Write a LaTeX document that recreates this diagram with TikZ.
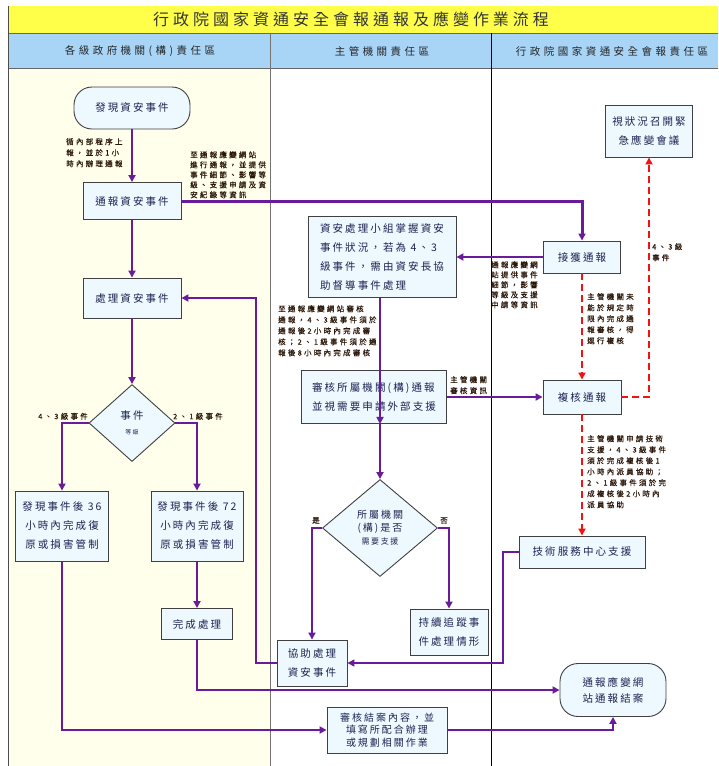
\documentclass[tikz,border=0pt]{standalone}
\usepackage{fontspec}
\setmainfont{Noto Sans CJK TC}
\newfontfamily\titlefont[LetterSpace=25]{Noto Sans CJK TC}
\newfontfamily\headfont[LetterSpace=33]{Noto Sans CJK TC}
\newfontfamily\boxfont[LetterSpace=20]{Noto Sans CJK TC}
\newfontfamily\notefont[LetterSpace=30,FakeBold=0.4]{Noto Sans CJK TC}
\usetikzlibrary{shapes.geometric,arrows.meta}
\definecolor{titleyellow}{HTML}{FFFF4A}
\definecolor{headblue}{HTML}{A8D4F6}
\definecolor{laneyellow}{HTML}{FFFFEC}
\definecolor{boxfill}{HTML}{EEF9FF}
\definecolor{boxtext}{HTML}{1C2452}
\definecolor{notetext}{HTML}{2A1608}
\definecolor{flowpurple}{HTML}{6A1B9A}
\definecolor{alertred}{HTML}{F21212}

\begin{document}
\begin{tikzpicture}[x=1pt,y=-1pt,>={Triangle[length=7pt,width=7pt]}]
  \tikzstyle{stepbox}=[rectangle,draw=black!75,line width=0.9pt,fill=boxfill,text=boxtext,
    font=\boxfont\fontsize{10.5}{19}\selectfont,align=center,inner sep=0pt]
  \tikzstyle{terminal}=[stepbox,rounded corners=18pt]
  \tikzstyle{decision}=[stepbox,diamond]
  \tikzstyle{note}=[font=\notefont\fontsize{7.5}{11}\selectfont,text=notetext,align=left,inner sep=0pt]
  \tikzstyle{flow}=[draw=flowpurple,line width=1.8pt]
  \tikzstyle{alert}=[draw=alertred,line width=1.8pt,dash pattern=on 7pt off 4pt]

  \useasboundingbox (0,0) rectangle (718,766);
  % lanes and header
  \fill[laneyellow] (8,68) rectangle (270,766);
  \fill[titleyellow] (8,6) rectangle (718,33);
  \fill[headblue] (8,33) rectangle (718,68);
  \draw[black!60] (8,33) -- (718,33) (8,68) -- (718,68);
  \draw[black!70] (8,6) -- (8,766);
  \draw[black!55] (270,33) -- (270,766);
  \draw (491,33) -- (491,766);

  \node[font=\titlefont\fontsize{16}{16}\selectfont,text=black!80] (title) at (351,19) {行政院國家資通安全會報通報及應變作業流程};
  \foreach \name/\x/\txt in {lane-1/140/各級政府機關(構)責任區, lane-2/382/主管機關責任區, lane-3/612/行政院國家資通安全會報責任區}
    \node[font=\headfont\fontsize{10.5}{12}\selectfont,text=black!85] (\name) at (\x,51) {\txt};

  % steps
  \node[terminal,minimum width=116pt,minimum height=42pt] (start) at (132,108) {發現資安事件};
  \foreach \name/\x/\y/\w/\h/\txt in {tb/132/201/98/37/通報資安事件, cl/132/298/98/40/處理資安事件,
      wc/197/624/71/31/完成處理, jh/582/257/77/32/接獲通報, fh/582/397/78/34/複核通報,
      ts/582/552/126/32/技術服務中心支援, mt/649/131/87/52/{視狀況召開緊\\急應變會議},
      b36/62/526/93/70/{發現事件後 36\\小時內完成復\\原或損害管制},
      b72/197/526/92/70/{發現事件後 72\\小時內完成復\\原或損害管制},
      track/449/632/78/46/{持續追蹤事\\件處理情形}, help/312/663/70/46/{協助處理\\資安事件}}
    \node[stepbox,minimum width=\w pt,minimum height=\h pt] (\name) at (\x,\y) {\txt};
  \node[stepbox,align=left,minimum width=148pt,minimum height=81pt] (sa) at (382,257)
    {資安處理小組掌握資安\\事件狀況，若為 4、3\\級事件，需由資安長協\\助督導事件處理};
  \node[stepbox,align=left,minimum width=145pt,minimum height=53pt] (sh) at (374,397)
    {審核所屬機關(構)通報\\並視需要申請外部支援};
  \node[stepbox,font=\boxfont\fontsize{10}{12.5}\selectfont,minimum width=120pt,minimum height=46pt] (rv) at (387,730)
    {審核結案內容，並\\填寫所配合辦理\\或規劃相關作業};
  \node[terminal,font=\boxfont\fontsize{10.5}{16}\selectfont,minimum width=106pt,minimum height=53pt] (end) at (613,690)
    {通報應變網\\站通報結案};
  \node[decision,minimum width=86pt,minimum height=77pt] (dj) at (132,423)
    {事件\\[-4pt]{\fontsize{6}{6}\selectfont 等級}};
  \node[decision,font=\boxfont\fontsize{10}{13}\selectfont,minimum width=115pt,minimum height=97pt] (dq) at (380,528)
    {所屬機關\\(構)是否\\{\fontsize{8}{8}\selectfont 需要支援}};

  % notes
  \node[note,anchor=north west] (n-inner) at (66,138) {循內部程序上\\報，並於1小\\時內辦理通報};
  \node[note,font=\notefont\fontsize{7.5}{10}\selectfont,anchor=north west] (n-web) at (190,151)
    {至通報應變網站\\進行通報，並提供\\事件細節、影響等\\級、支援申請及資\\安紀錄等資訊};
  \node[note,font=\notefont\fontsize{7.5}{10}\selectfont,anchor=north west] (n-info) at (491,261)
    {通報應變網\\站提供事件\\細節，影響\\等級及支援\\中請等資訊};
  \node[note,anchor=north west] (n-audit) at (278,305)
    {至通報應變網站審核\\通報，4、3級事件須於\\通報後2小時內完成審\\核；2、1級事件須於通\\報後8小時內完成審核};
  \node[note,anchor=north west] (n-review) at (450,376) {主管機關\\審核資訊};
  \node[note,anchor=north west] (n-late) at (587,293)
    {主管機關未\\能於規定時\\限內完成通\\報審核，得\\逕行複核};
  \node[note,anchor=north west] (n-big) at (652,243) {4、3級\\事件};
  \node[note,anchor=north west] (n-tech) at (587,435)
    {主管機關申請技術\\支援，4、3級事件\\須於完成複核後1\\小時內派員協助；\\2、1級事件須於完\\成複核後2小時內\\派員協助};
  \node[note,anchor=south east] (n-43) at (88,420) {4、3級事件};
  \node[note,anchor=south west] (n-21) at (173,420) {2、1級事件};
  \node[note,anchor=south] (n-yes) at (316,524) {是};
  \node[note,anchor=south] (n-no) at (444,524) {否};

  % connectors
  \foreach \from/\to in {start/tb, tb/cl, cl/dj, b72/wc, jh/sa, sh/fh}
    { \draw[flow,->] (\from) -- (\to); }
  \draw[flow,line width=3pt,->] (tb.east) -| (jh.north);
  \draw[flow,->] (sa.south -| dq) -- (sh.south -| dq) ;
  \draw[flow,->] (sh.south -| dq) -- (dq.north);
  \draw[flow,->] (dj.west) -| (b36.north);
  \draw[flow,->] (dj.east) -| (b72.north);
  \draw[flow,->] (dq.west) -| (help.north);
  \draw[flow,->] (dq.east) -| (track.north);
  \draw[flow,->] (wc.south) |- (end.west);
  \draw[flow,->] (b36.south) |- (rv.west);
  \draw[flow,->] (rv.east) -| (end.south);
  \coordinate (ts-bend) at (503,552);
  \coordinate (help-bend) at (256,663);
  \draw[flow,line width=1.4pt,->] (ts.west) -- (ts-bend) |- (help.east);
  \draw[flow,->] (help.west) -- (help-bend) |- (cl.east);
  \draw[alert,->] (jh) -- (fh);
  \draw[alert,->] (fh) -- (ts);
  \draw[alert,->] (fh.east) -| (mt.south);
\end{tikzpicture}
\end{document}
